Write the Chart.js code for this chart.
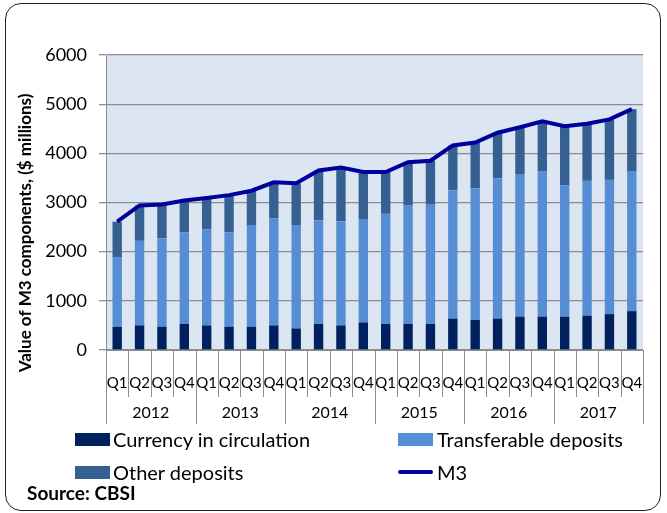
<!DOCTYPE html>
<html>
<head>
<meta charset="utf-8">
<script src="https://cdn.jsdelivr.net/npm/chart.js@4.4.1/dist/chart.umd.min.js"></script>
<style>
  html, body { margin: 0; padding: 0; background: #fff; }
  #wrap { position: relative; width: 667px; height: 513px; font-family: Lato, "Open Sans", sans-serif; color: #000; }
  #frame { position: absolute; left: 5px; top: 3px; width: 656px; height: 508px; border: 1.5px solid #222; border-radius: 16px; box-sizing: border-box; pointer-events: none; }
  canvas { position: absolute; left: 0; top: 0; }
  .lg { position: absolute; font-size: 20px; line-height: 20px; white-space: nowrap; }
  .box { position: absolute; width: 35px; height: 13px; }
  .src { position: absolute; left: 27px; top: 483px; font-weight: bold; font-size: 19px; line-height: 20px; }
</style>
</head>
<body>
<div id="wrap">
  <canvas id="m3Chart" width="667" height="513"></canvas>
  <div id="frame"></div>
  <div class="box" style="left:75px;top:433px;background:#00215e"></div>
  <div class="lg" style="left:113px;top:429px">Currency in circulation</div>
  <div class="box" style="left:398px;top:433px;background:#558ed5"></div>
  <div class="lg" style="left:437px;top:429px">Transferable deposits</div>
  <div class="box" style="left:75px;top:466px;background:#376092"></div>
  <div class="lg" style="left:113px;top:462px">Other deposits</div>
  <div class="box" style="left:398px;top:470px;height:4px;border-radius:2px;background:#00009c"></div>
  <div class="lg" style="left:437px;top:462px">M3</div>
  <div class="src">Source: CBSI</div>
</div>
<script>
const quarters = ['Q1', 'Q2', 'Q3', 'Q4', 'Q1', 'Q2', 'Q3', 'Q4', 'Q1', 'Q2', 'Q3', 'Q4',
                  'Q1', 'Q2', 'Q3', 'Q4', 'Q1', 'Q2', 'Q3', 'Q4', 'Q1', 'Q2', 'Q3', 'Q4'];
const years = ['2012', '2013', '2014', '2015', '2016', '2017'];
const currency = [470, 500, 470, 530, 500, 470, 470, 500, 440, 530, 500, 560,
                  530, 530, 530, 640, 610, 640, 680, 680, 680, 700, 730, 790];
const transferable = [1420, 1720, 1800, 1860, 1950, 1920, 2070, 2180, 2100, 2110, 2120, 2090,
                      2240, 2420, 2440, 2610, 2680, 2850, 2900, 2960, 2670, 2740, 2730, 2850];
const otherDeposits = [720, 720, 690, 650, 640, 760, 700, 730, 850, 1010, 1090, 970,
                       850, 870, 880, 910, 930, 930, 950, 1010, 1190, 1160, 1230, 1260];
const m3 = [2610, 2940, 2960, 3040, 3090, 3150, 3240, 3410, 3390, 3650, 3710, 3620,
            3620, 3820, 3850, 4160, 4220, 4420, 4530, 4650, 4550, 4600, 4690, 4900];
const yTicks = [0, 1000, 2000, 3000, 4000, 5000, 6000];

const gridGrey = '#8c8c8c';

// plot background, year groups under the quarter labels, y axis title
const extrasPlugin = {
  id: 'extras',
  beforeDraw(chart) {
    const {ctx, chartArea: a} = chart;
    ctx.save();
    ctx.fillStyle = '#dce6f2';
    ctx.fillRect(a.left, a.top, a.right - a.left, a.bottom - a.top);
    ctx.restore();
  },
  afterDraw(chart) {
    const {ctx, chartArea: a, scales: {x}} = chart;
    const half = (x.getPixelForValue(1) - x.getPixelForValue(0)) / 2;
    ctx.save();
    ctx.strokeStyle = gridGrey;
    ctx.lineWidth = 1;
    for (let i = 0; i <= quarters.length; i++) {
      const px = Math.round(x.getPixelForValue(i) - half) + 0.5;
      const yearEdge = i % 4 === 0;
      ctx.beginPath();
      ctx.moveTo(px, a.bottom);
      ctx.lineTo(px, yearEdge ? 424 : 397);
      ctx.stroke();
    }
    ctx.fillStyle = '#000';
    ctx.font = '16px Lato, "Open Sans", sans-serif';
    ctx.textAlign = 'center';
    ctx.textBaseline = 'middle';
    years.forEach((yr, k) => {
      const cx = (x.getPixelForValue(k * 4) + x.getPixelForValue(k * 4 + 3)) / 2;
      ctx.fillText(yr, cx, 413);
    });
    ctx.translate(26, 233);
    ctx.rotate(-Math.PI / 2);
    ctx.font = 'bold 17px Lato, "Open Sans", sans-serif';
    ctx.fillText('Value of M3 components, ($ millions)', 0, 0);
    ctx.restore();
  }
};

const ctx = document.getElementById('m3Chart').getContext('2d');
const m3Chart = new Chart(ctx, {
  type: 'bar',
  data: {
    labels: quarters,
    datasets: [
      { label: 'Currency in circulation', data: currency, backgroundColor: '#00215e', stack: 'm', order: 1 },
      { label: 'Transferable deposits', data: transferable, backgroundColor: '#558ed5', stack: 'm', order: 1 },
      { label: 'Other deposits', data: otherDeposits, backgroundColor: '#376092', stack: 'm', order: 1 },
      { type: 'line', label: 'M3', data: m3, borderColor: '#00009c', backgroundColor: '#00009c',
        borderWidth: 4, pointRadius: 0, tension: 0, stack: 'line', order: 0 }
    ]
  },
  options: {
    responsive: false,
    animation: false,
    layout: { padding: { left: 0, top: 55, right: 24, bottom: 83 } },
    datasets: { bar: { barPercentage: 0.42, categoryPercentage: 1 } },
    plugins: {
      legend: { display: false },
      tooltip: { enabled: false }
    },
    scales: {
      x: {
        stacked: true,
        afterFit: (s) => { s.height = 80; },
        grid: { display: false },
        border: { color: gridGrey, width: 1 },
        ticks: {
          color: '#000',
          font: { family: 'Lato, "Open Sans", sans-serif', size: 15 },
          padding: 16,
          maxRotation: 0,
          autoSkip: false
        }
      },
      y: {
        stacked: true,
        min: 0,
        max: 6000,
        afterFit: (s) => { s.width = 106; },
        afterBuildTicks: (s) => { s.ticks = yTicks.map(v => ({ value: v })); },
        grid: { color: gridGrey, lineWidth: 1.3, tickLength: 7 },
        border: { color: gridGrey, width: 1 },
        ticks: {
          color: '#000',
          font: { family: 'Lato, "Open Sans", sans-serif', size: 18 },
          padding: 12,
          callback: (v) => String(v)
        }
      }
    }
  },
  plugins: [extrasPlugin]
});
</script>
</body>
</html>
